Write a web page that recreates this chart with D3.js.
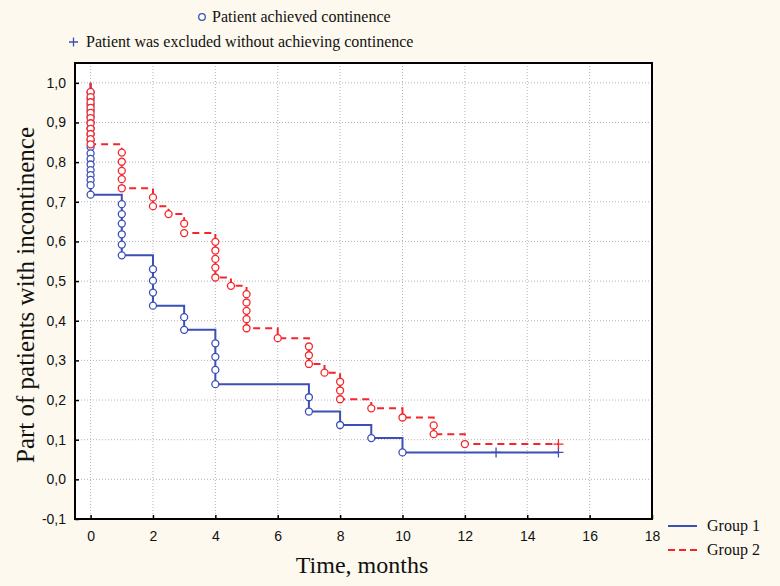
<!DOCTYPE html>
<html>
<head>
<meta charset="UTF-8">
<script src="https://d3js.org/d3.v7.min.js"></script>
<style>
    body {
        margin: 0;
        background-color: #fdf9ee;
    }
    .tick text {
        font-family: Arial, "Liberation Sans", sans-serif;
        font-size: 14px;
        fill: #111;
    }
</style>
</head>
<body>
<svg id="main" width="780" height="586"></svg>
<script>
    // ticks
    var xTicks = [0, 2, 4, 6, 8, 10, 12, 14, 16, 18];
    var yTicks = [-0.1, 0.0, 0.1, 0.2, 0.3, 0.4, 0.5, 0.6, 0.7, 0.8, 0.9, 1.0];

    // Group 1 : step times, level after the step, circles (patient achieved continence)
    var g1Times = [0, 1, 2, 3, 4, 7, 8, 9, 10];
    var g1Levels = [0.718, 0.565, 0.438, 0.377, 0.240, 0.171, 0.137, 0.104, 0.068];
    var g1Events = [
        [0.975, 0.96, 0.945, 0.93, 0.915, 0.9, 0.885, 0.87, 0.855, 0.838, 0.822, 0.808, 0.794, 0.78, 0.767, 0.755, 0.742, 0.718],
        [0.694, 0.669, 0.645, 0.618, 0.592, 0.565],
        [0.530, 0.501, 0.471, 0.438],
        [0.409, 0.377],
        [0.343, 0.309, 0.276, 0.240],
        [0.207, 0.171],
        [0.137],
        [0.104],
        [0.068]
    ];
    var g1Censored = [13, 15];
    var g1End = 15;

    // Group 2
    var g2Times = [0, 1, 2, 2.5, 3, 4, 4.5, 5, 6, 7, 7.5, 8, 9, 10, 11, 12];
    var g2Levels = [0.845, 0.734, 0.689, 0.669, 0.621, 0.509, 0.488, 0.381, 0.356, 0.291, 0.269, 0.202, 0.179, 0.156, 0.114, 0.089];
    var g2Events = [
        [0.977, 0.964, 0.951, 0.937, 0.924, 0.911, 0.898, 0.884, 0.871, 0.858, 0.845],
        [0.824, 0.801, 0.778, 0.757, 0.734],
        [0.711, 0.689],
        [0.669],
        [0.645, 0.621],
        [0.599, 0.577, 0.556, 0.534, 0.509],
        [0.488],
        [0.467, 0.446, 0.425, 0.404, 0.381],
        [0.356],
        [0.335, 0.313, 0.291],
        [0.269],
        [0.246, 0.224, 0.202],
        [0.179],
        [0.156],
        [0.136, 0.114],
        [0.089]
    ];
    var g2Censored = [15];
    var g2End = 15;

    var blue = "#3b4fb5";
    var red = "#f5262b";

    var svg = d3.select("#main");
    var pLeft = 75, pTop = 63, pRight = 652, pBottom = 519;

    var x = d3.scaleLinear().domain([-0.5, 18]).range([pLeft, pRight]);
    var y = d3.scaleLinear().domain([-0.1, 1.05]).range([pBottom, pTop]);

    svg.append("rect")
        .attr("x", pLeft).attr("y", pTop)
        .attr("width", pRight - pLeft).attr("height", pBottom - pTop)
        .attr("fill", "#fff");

    // grid
    svg.append("g").selectAll("line")
        .data(xTicks.slice(0, -1))
        .enter().append("line")
        .attr("x1", d => x(d)).attr("x2", d => x(d))
        .attr("y1", pTop).attr("y2", pBottom)
        .attr("stroke", "#b4b4b4").attr("stroke-width", 1)
        .attr("stroke-dasharray", "1,2");
    svg.append("g").selectAll("line")
        .data(yTicks.slice(1))
        .enter().append("line")
        .attr("y1", d => y(d)).attr("y2", d => y(d))
        .attr("x1", pLeft).attr("x2", pRight)
        .attr("stroke", "#b4b4b4").attr("stroke-width", 1)
        .attr("stroke-dasharray", "1,2");

    var fmt = d => d3.format(".1f")(d).replace(".", ",").replace("−", "-");

    var yAxis = svg.append("g")
        .attr("transform", "translate(" + pLeft + ",0)")
        .call(d3.axisLeft(y).tickValues(yTicks).tickFormat(fmt).tickSize(-4).tickPadding(9));
    var xAxis = svg.append("g")
        .attr("transform", "translate(0," + pBottom + ")")
        .call(d3.axisBottom(x).tickValues(xTicks).tickFormat(d3.format("d")).tickSize(-4).tickPadding(12));
    [xAxis, yAxis].forEach(function(a) {
        a.select(".domain").remove();
        a.selectAll(".tick line").attr("stroke", "#000").attr("stroke-width", 1.5);
    });

    // curves
    function stepPath(times, levels, end) {
        var pts = [[x(0), y(1)]];
        var prev = 1;
        times.forEach(function(t, i) {
            pts.push([x(t), y(prev)]);
            pts.push([x(t), y(levels[i])]);
            prev = levels[i];
        });
        pts.push([x(end), y(prev)]);
        return d3.line()(pts);
    }

    function drawGroup(times, levels, events, censored, end, color, dash) {
        var g = svg.append("g");
        g.append("path")
            .attr("d", stepPath(times, levels, end))
            .attr("fill", "none")
            .attr("stroke", color)
            .attr("stroke-width", 2)
            .attr("stroke-dasharray", dash);
        var pts = [];
        times.forEach(function(t, i) {
            events[i].forEach(v => pts.push([t, v]));
        });
        g.selectAll("circle")
            .data(pts)
            .enter().append("circle")
            .attr("cx", d => x(d[0]))
            .attr("cy", d => y(d[1]))
            .attr("r", 3.5)
            .attr("fill", "#fff")
            .attr("stroke", color)
            .attr("stroke-width", 1.3);
        var last = levels[levels.length - 1];
        censored.forEach(function(t) {
            g.append("path")
                .attr("d", "M" + (x(t) - 5) + "," + y(last) + "h10M" + x(t) + "," + (y(last) - 5) + "v10")
                .attr("stroke", color)
                .attr("stroke-width", 1.3);
        });
    }

    drawGroup(g1Times, g1Levels, g1Events, g1Censored, g1End, blue, null);
    drawGroup(g2Times, g2Levels, g2Events, g2Censored, g2End, red, "7,5");

    // frame
    svg.append("rect")
        .attr("x", pLeft).attr("y", pTop)
        .attr("width", pRight - pLeft).attr("height", pBottom - pTop)
        .attr("fill", "none").attr("stroke", "#000").attr("stroke-width", 2);

    // titles
    var serif = "'Liberation Serif', 'Times New Roman', serif";
    svg.append("text")
        .attr("x", 362).attr("y", 573)
        .attr("text-anchor", "middle")
        .attr("font-family", serif).attr("font-size", 24)
        .attr("fill", "#111")
        .text("Time, months");
    svg.append("text")
        .attr("transform", "translate(34,295) rotate(-90)")
        .attr("text-anchor", "middle")
        .attr("font-family", serif).attr("font-size", 25)
        .attr("fill", "#111")
        .text("Part of patients with incontinence");

    // top legend
    svg.append("circle")
        .attr("cx", 202).attr("cy", 17).attr("r", 3.3)
        .attr("fill", "#fff").attr("stroke", blue).attr("stroke-width", 1.3);
    svg.append("text")
        .attr("x", 212).attr("y", 22)
        .attr("font-family", serif).attr("font-size", 16).attr("fill", "#111")
        .text("Patient achieved continence");
    svg.append("path")
        .attr("d", "M69,42h9M73.5,37.5v9")
        .attr("stroke", blue).attr("stroke-width", 1.3);
    svg.append("text")
        .attr("x", 86).attr("y", 47)
        .attr("font-family", serif).attr("font-size", 16).attr("fill", "#111")
        .text("Patient was excluded without achieving continence");

    // group legend
    var legend = [["Group 1", blue, null], ["Group 2", red, "7,4"]];
    legend.forEach(function(d, i) {
        var ly = 526 + i * 24;
        svg.append("line")
            .attr("x1", 668).attr("x2", 697)
            .attr("y1", ly).attr("y2", ly)
            .attr("stroke", d[1]).attr("stroke-width", 2)
            .attr("stroke-dasharray", d[2]);
        svg.append("text")
            .attr("x", 707).attr("y", ly + 5)
            .attr("font-family", serif).attr("font-size", 16).attr("fill", "#111")
            .text(d[0]);
    });
</script>
</body>
</html>
